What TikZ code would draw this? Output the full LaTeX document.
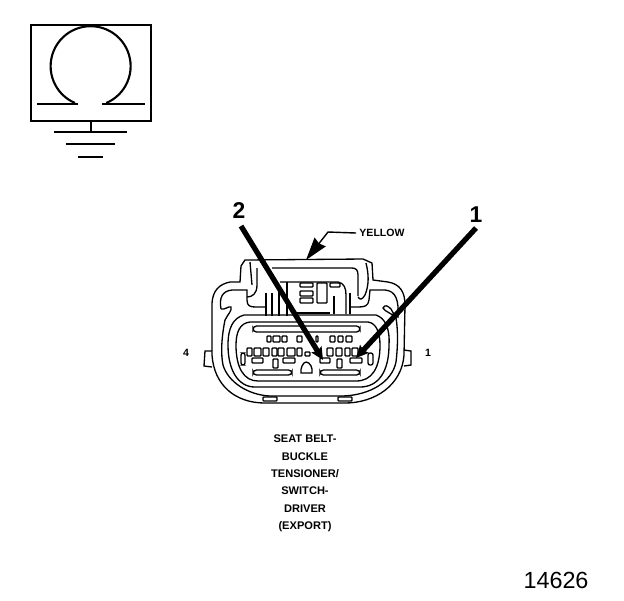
\documentclass[tikz,border=0pt]{standalone}
\usepackage{fontspec}
\setmainfont{Liberation Sans}
\usetikzlibrary{arrows.meta}
\tikzset{
  outline/.style={line width=0.75pt, black},
  pinbox/.style={line width=0.75pt, black, rounded corners=0.5pt},
  frameline/.style={line width=1.2pt, black},
  callout/.style={line width=3pt, black, -{Stealth[length=7pt,width=6.5pt,inset=1pt]}},
  smalltext/.style={font=\bfseries\fontsize{6}{7}\selectfont, inner sep=0pt},
  titletext/.style={font=\bfseries\fontsize{6.3}{9.9}\selectfont, inner sep=0pt, align=center}
}
\begin{document}
\begin{tikzpicture}[x=0.02cm, y=-0.02cm]
    \useasboundingbox (0, 0) rectangle (624, 600);
    % ground symbol
    \draw[frameline] (31, 25) rectangle (151, 121);
    \draw[frameline] (75, 103) arc (113:427:40);
    \draw[frameline] (37, 104) -- (78, 104);
    \draw[frameline] (102, 104) -- (145, 104);
    \draw[frameline] (91, 121) -- (91, 132);
    \draw[frameline] (54, 132) -- (127, 132);
    \draw[frameline] (66, 144) -- (115, 144);
    \draw[frameline] (78, 157) -- (103, 157);
    % housing
    \draw[outline] (230, 282) -- (240, 282) -- (241, 266) -- (245, 260) -- (363, 259) -- (372, 263) -- (373, 280) -- (388, 282)
        .. controls (400, 284) and (405, 292) .. (405, 305) -- (404, 355)
        .. controls (402, 385) and (375, 403) .. (345, 403) -- (265, 403)
        .. controls (235, 403) and (214, 385) .. (212, 355) -- (212, 305)
        .. controls (212, 290) and (220, 284) .. (230, 282);
    \draw[outline] (225, 320) .. controls (221, 340) and (221, 355) .. (223, 365)
        .. controls (228, 382) and (248, 395) .. (270, 396) -- (343, 396)
        .. controls (370, 395) and (392, 382) .. (396, 362) .. controls (398, 345) and (398, 330) .. (396, 318);
    \draw[outline] (221, 309) .. controls (219, 298) and (222, 291) .. (232, 290) -- (247, 290) -- (247, 300)
        .. controls (247, 306) and (250, 307) .. (256, 307) -- (266, 307);
    \draw[outline] (221, 309) .. controls (225, 310) and (228, 306) .. (231, 307) .. controls (232, 311) and (228, 314) .. (225, 320);
    \draw[outline] (396, 318) .. controls (392, 313) and (385, 312) .. (383, 308) .. controls (385, 304) and (388, 306) .. (391, 309) -- (396, 318);
    \draw[outline] (398, 318) .. controls (399, 300) and (396, 291) .. (385, 290) -- (370, 290) -- (369, 300)
        .. controls (368, 306) and (365, 307) .. (358, 307) -- (349, 307);
    \draw[outline] (257, 268) -- (257, 285) .. controls (257, 294) and (252, 297) .. (247, 297);
    \draw[outline] (250, 262) -- (252, 285);
    \draw[outline] (272, 268) -- (352, 268) .. controls (356, 268) and (358, 270) .. (358, 275) -- (358, 296);
    \draw[outline] (366, 263) .. controls (369, 275) and (369, 285) .. (365, 295) .. controls (362, 300) and (360, 300) .. (358, 297);
    \draw[outline] (280, 282) -- (338, 282) .. controls (344, 283) and (346, 288) .. (346, 295) -- (346, 314);
    \draw[outline] (266, 293) -- (266, 316);
    \draw[outline] (272, 293) -- (272, 316);
    \draw[outline] (279, 285) -- (279, 316);
    \draw[outline] (287, 282) -- (287, 316);
    \draw[outline] (334, 296) -- (334, 314);
    \draw[outline] (350, 293) -- (350, 314);
    \draw[outline] (296, 313) -- (330, 313);
    % inner shell
    \draw[outline] (244, 315) -- (376, 315) .. controls (385, 318) and (390, 328) .. (389, 345)
        .. controls (389, 372) and (378, 387) .. (360, 387) -- (255, 387)
        .. controls (238, 387) and (228, 370) .. (228, 345) .. controls (228, 328) and (233, 318) .. (244, 315);
    \draw[outline] (250, 322) -- (368, 322) .. controls (376, 323) and (380, 332) .. (380, 345)
        .. controls (380, 368) and (372, 381) .. (356, 381) -- (258, 381)
        .. controls (244, 381) and (236, 368) .. (236, 345) .. controls (236, 332) and (240, 323) .. (250, 322);
    \draw[pinbox, rounded corners=2pt] (253, 326) rectangle (360, 332);
    \draw[pinbox, rounded corners=2pt] (253, 370) rectangle (292, 375);
    \draw[pinbox, rounded corners=2pt] (320, 370) rectangle (360, 375);
    \draw[outline] (306, 362) .. controls (310, 362) and (313, 368) .. (312, 373) -- (301, 373) .. controls (300, 369) and (303, 362) .. (306, 362);
    % contact cavities
    \foreach \xa/\xb in {267/271, 273/280, 282/287, 297/302, 316/318, 330/335, 338/343, 346/352}
        \draw[pinbox] (\xa, 336) rectangle (\xb, 342);
    \foreach \xa/\xb in {247/252, 254/261, 263/269, 272/277, 278/284, 287/295, 297/302, 327/333, 336/342, 345/350, 352/358}
        \draw[pinbox] (\xa, 348) rectangle (\xb, 356);
    \draw[pinbox] (305, 352) rectangle (310, 356);
    \foreach \xa/\xb in {252/263, 283/295, 320/330, 350/362}
        \draw[pinbox] (\xa, 358) rectangle (\xb, 363);
    \foreach \xa/\xb in {273/278, 337/342}
        \draw[pinbox] (\xa, 359) rectangle (\xb, 368);
    \foreach \xa/\xb in {241/245, 368/373}
        \draw[pinbox, rounded corners=1.2pt] (\xa, 353) rectangle (\xb, 365);
    % upper cavities
    \foreach \ya/\yb in {283/287, 291/296, 298/303}
        \draw[pinbox] (300, \ya) rectangle (313, \yb);
    \draw[pinbox] (317, 283) rectangle (327, 303);
    \draw[pinbox] (330, 283) rectangle (340, 287);
    % side and bottom tabs
    \draw[outline] (212, 351) -- (205, 351) -- (204, 366) -- (212, 367);
    \draw[outline] (404, 350) -- (411, 351) -- (411, 365) -- (404, 366);
    \foreach \xa/\xb in {263/277, 338/352}
        \draw[pinbox] (\xa, 397) rectangle (\xb, 401);
    % labels
    \node[smalltext] (YELLOW) at (382, 233) {YELLOW};
    \node[smalltext] (L4) at (186, 353) {4};
    \node[smalltext] (L1) at (428, 353) {1};
    \node[font=\bfseries\fontsize{13}{15}\selectfont, inner sep=0pt] (TWO) at (239, 211) {2};
    \node[font=\bfseries\fontsize{13}{15}\selectfont, inner sep=0pt] (ONE) at (476, 215) {1};
    \node[titletext] (TITLE) at (305, 483.5) {SEAT BELT-\\BUCKLE\\TENSIONER/\\SWITCH-\\DRIVER\\(EXPORT)};
    \node[font=\fontsize{13.3}{15}\selectfont, inner sep=0pt] (NUM) at (556, 580) {14626};
    % arrows
    \coordinate (TWOS) at (241, 226);
    \coordinate (TWOE) at (323, 360);
    \coordinate (ONES) at (476, 228);
    \coordinate (ONEE) at (356, 358);
    \coordinate (YBEND) at (328, 232);
    \coordinate (YEND) at (306, 260);
    \draw[callout] (TWOS) -- (TWOE);
    \draw[callout] (ONES) -- (ONEE);
    \draw[outline, line width=0.8pt, -{Stealth[length=13pt,width=8pt,inset=1pt]}] (YELLOW.west) ++(-3, 0) -- (YBEND) -- (YEND);
\end{tikzpicture}
\end{document}
